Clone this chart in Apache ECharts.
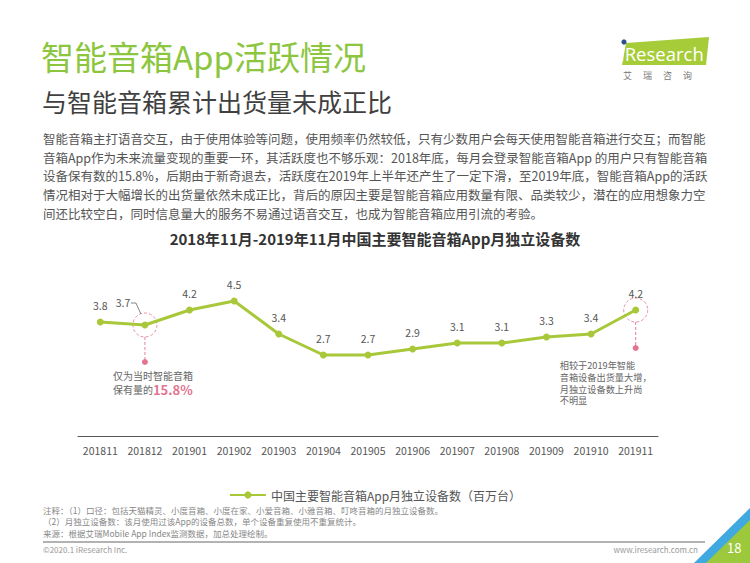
<!DOCTYPE html>
<html><head><meta charset="utf-8">
<script src="https://cdn.jsdelivr.net/npm/echarts@6/dist/echarts.min.js"></script>
<style>html,body{margin:0;padding:0;background:#fff}#c{width:750px;height:563px}</style>
</head><body><div id="c"></div>
<script>
var categories = ['201811','201812','201901','201902','201903','201904','201905','201906','201907','201908','201909','201910','201911'];
var deviceValues = [3.8,3.7,4.2,4.5,3.4,2.7,2.7,2.9,3.1,3.1,3.3,3.4,4.2];
var seriesName = '中国主要智能音箱App月独立设备数（百万台）';
var pageTitle = '智能音箱App活跃情况';
var pageSubtitle = '与智能音箱累计出货量未成正比';
var chartTitle = '2018年11月-2019年11月中国主要智能音箱App月独立设备数';
var paragraph = [
 '智能音箱主打语音交互，由于使用体验等问题，使用频率仍然较低，只有少数用户会每天使用智能音箱进行交互；而智能',
 '音箱App作为未来流量变现的重要一环，其活跃度也不够乐观：2018年底，每月会登录智能音箱App 的用户只有智能音箱',
 '设备保有数的15.8%，后期由于新奇退去，活跃度在2019年上半年还产生了一定下滑，至2019年底，智能音箱App的活跃',
 '情况相对于大幅增长的出货量依然未成正比，背后的原因主要是智能音箱应用数量有限、品类较少，潜在的应用想象力空',
 '间还比较空白，同时信息量大的服务不易通过语音交互，也成为智能音箱应用引流的考验。'
];
var notes = [
 '注释：（1）口径：包括天猫精灵、小度音箱、小度在家、小爱音箱、小雅音箱、叮咚音箱的月独立设备数。',
 '（2）月独立设备数：该月使用过该App的设备总数，单个设备重复使用不重复统计。',
 '来源：根据艾瑞Mobile App Index监测数据，加总处理绘制。'
];
var note1Lines = ['仅为当时智能音箱','保有量的'];
var note1Pct = '15.8%';
var note2Lines = ['相较于2019年智能','音箱设备出货量大增，','月独立设备数上升尚','不明显'];
var footerLeft = '©2020.1 iResearch Inc.';
var footerRight = 'www.iresearch.com.cn';
var pageNo = '18';

var GREEN = '#a8c83a', PINK = '#e27490', FONT = '"Noto Sans CJK SC","Noto Sans",sans-serif';
var chart = echarts.init(document.getElementById('c'), null, {renderer:'svg'});

var labelData = deviceValues.map(function(v,i){
  var d = {value:v};
  if(i===1){ d.label = {offset:[-22,-6]}; }
  return d;
});

var baseGraphics = [];
baseGraphics.push({type:'text', left:41, top:39, style:{text:pageTitle, fill:'#8cc63f', font:'33px '+FONT}});
baseGraphics.push({type:'text', left:42, top:88, style:{text:pageSubtitle, fill:'#404040', font:'25px '+FONT}});
baseGraphics.push({type:'text', left:43, top:129, style:{text:paragraph.join('\n'), fill:'#555', font:'12.5px '+FONT, lineHeight:18.7}});
baseGraphics.push({type:'text', left:43, top:504, style:{text:notes.join('\n'), fill:'#888', font:'8.5px '+FONT, lineHeight:11.5}});
baseGraphics.push({type:'line', shape:{x1:43,y1:542,x2:705,y2:542}, style:{stroke:'#666', lineWidth:1}});
baseGraphics.push({type:'text', left:43, top:545, style:{text:footerLeft, fill:'#999', font:'8px '+FONT}});
baseGraphics.push({type:'text', right:52, top:545, style:{text:footerRight, fill:'#999', font:'8px '+FONT}});
baseGraphics.push({type:'polygon', shape:{points:[[750,508],[750,522],[707,563],[694,563]]}, style:{fill:'#3fa9e0'}});
baseGraphics.push({type:'polygon', shape:{points:[[750,520],[750,563],[706,563]]}, style:{fill:'#9cc93b'}});
baseGraphics.push({type:'text', left:727, top:541, style:{text:pageNo, fill:'#fff', font:'13px '+FONT}});
// logo
baseGraphics.push({type:'polygon', shape:{points:[[626,43],[709,37],[706,65],[622,65]]}, style:{fill:'#a6cc39'}});
baseGraphics.push({type:'circle', shape:{cx:624,cy:42,r:2.6}, style:{fill:'#2c4f8c'}});
baseGraphics.push({type:'text', left:620, top:44, style:{text:'iResearch', fill:'#fff', font:'18.5px "Open Sans",sans-serif'}});
baseGraphics.push({type:'text', left:623, top:71, style:{text:'艾　 瑞　 咨　 询', fill:'#777', font:'9px '+FONT}});

chart.setOption({
  animation:false,
  textStyle:{fontFamily:FONT},
  title:{text:chartTitle, left:'center', top:226, textStyle:{fontSize:15, fontWeight:'bold', color:'#333', fontFamily:FONT}},
  grid:{left:78, right:92, top:286, bottom:127},
  legend:{data:[seriesName], left:'center', top:484, itemWidth:36, itemHeight:9, itemGap:6,
    textStyle:{color:'#555', fontSize:12, fontFamily:FONT}},
  xAxis:{type:'category', data:categories, boundaryGap:true,
    axisLine:{lineStyle:{color:'#555', width:1.2}}, axisTick:{show:false},
    axisLabel:{color:'#555', fontSize:10.5, margin:9, interval:0}},
  yAxis:{type:'value', min:0, max:5, show:false, splitLine:{show:false}},
  series:[{
    name:seriesName, type:'line', data:labelData, symbol:'circle', symbolSize:7,
    lineStyle:{color:GREEN, width:3}, itemStyle:{color:GREEN},
    label:{show:true, position:'top', distance:8, color:'#555', fontSize:10.5}
  }],
  graphic:baseGraphics
});

var p1 = chart.convertToPixel({seriesIndex:0}, [1, deviceValues[1]]);
var p2 = chart.convertToPixel({seriesIndex:0}, [12, deviceValues[12]]);
var R = 12;
var g = baseGraphics.slice();
[p1,p2].forEach(function(p){
  g.push({type:'circle', shape:{cx:p[0], cy:p[1], r:R}, style:{fill:'none', stroke:PINK, lineWidth:0.8, lineDash:[3,2]}});
});
g.push({type:'line', shape:{x1:p1[0],y1:p1[1]+R,x2:p1[0],y2:p1[1]+36}, style:{stroke:PINK, lineWidth:0.9, lineDash:[3,2]}});
g.push({type:'circle', shape:{cx:p1[0], cy:p1[1]+37, r:3}, style:{fill:PINK}});
g.push({type:'line', shape:{x1:p2[0],y1:p2[1]+R,x2:p2[0],y2:p2[1]+37}, style:{stroke:PINK, lineWidth:0.9, lineDash:[3,2]}});
g.push({type:'circle', shape:{cx:p2[0], cy:p2[1]+38, r:3}, style:{fill:PINK}});
g.push({type:'polyline', shape:{points:[[p1[0]-14,p1[1]-22],[p1[0]-9,p1[1]-22],[p1[0]-4,p1[1]-11]]}, style:{stroke:'#666', lineWidth:0.8, fill:'none'}});
g.push({type:'text', left:p1[0]-32, top:p1[1]+45, style:{
  text:'{a|'+note1Lines[0]+'}\n{a|'+note1Lines[1]+'}{p|'+note1Pct+'}',
  rich:{a:{fill:'#666', fontSize:10, fontFamily:FONT, lineHeight:14},
        p:{fill:PINK, fontSize:13, fontWeight:'bold', fontFamily:FONT, lineHeight:14}}
}});
g.push({type:'text', left:p2[0]-76, top:p2[1]+49, style:{text:note2Lines.join('\n'), fill:'#666', font:'9.2px '+FONT, lineHeight:11.8}});
chart.setOption({graphic:g}, {replaceMerge:['graphic']});
</script></body></html>
